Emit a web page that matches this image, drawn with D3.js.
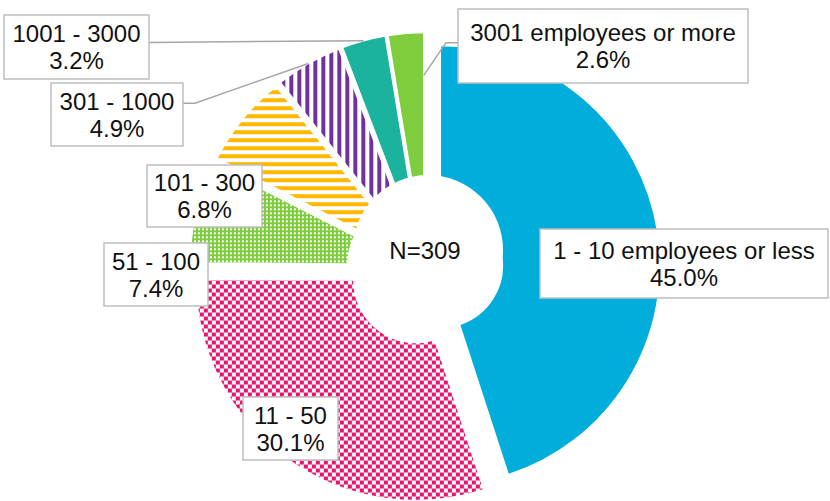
<!DOCTYPE html>
<html><head><meta charset="utf-8">
<script src="https://cdn.jsdelivr.net/npm/d3@7/dist/d3.min.js"></script>
<style>html,body{margin:0;padding:0;background:#fff;} svg{display:block;}</style>
</head><body>
<svg id="chart" width="830" height="501"></svg>
<script>
// ---- data ----
const categories = ["1 - 10 employees or less","11 - 50","51 - 100","101 - 300","301 - 1000","1001 - 3000","3001 employees or more"];
const values = [45.0, 30.1, 7.4, 6.8, 4.9, 3.2, 2.6];
const pctLabels = ["45.0%","30.1%","7.4%","6.8%","4.9%","3.2%","2.6%"];
const totalLabel = "N=309";

// ---- style / layout ----
const fills = ["#00ADDB","url(#pCheck)","url(#pGrid)","url(#pHStripe)","url(#pVStripe)","#1BB39D","#7DCD3C"];
const W = 830, H = 501;
const cx = 425, cy = 268, R = 220, r0 = 62, explode = 15.5;
const holeCx = 428, holeCy = 250, holeR = 75;
const font = "'Liberation Sans', Arial, sans-serif";
// label boxes: [x, y, w, h]
const boxes = [
  [540, 229, 288, 69],
  [243, 397, 95, 63],
  [104, 243, 104, 63],
  [147, 165, 115, 62],
  [51, 83, 132, 63],
  [4, 15, 145, 64],
  [458, 9, 290, 74]
];

const svg = d3.select("#chart");
const defs = svg.append("defs");

function pat(id, w, h, bg, draw) {
  const p = defs.append("pattern").attr("id", id).attr("patternUnits", "userSpaceOnUse")
    .attr("width", w).attr("height", h);
  p.append("rect").attr("width", w).attr("height", h).attr("fill", bg);
  draw(p);
}
pat("pCheck", 8, 8, "#fff", p => {
  p.append("rect").attr("x", 0).attr("y", 0).attr("width", 4).attr("height", 4).attr("fill", "#E8136F");
  p.append("rect").attr("x", 4).attr("y", 4).attr("width", 4).attr("height", 4).attr("fill", "#E8136F");
});
pat("pGrid", 4, 4, "#7DCD3C", p => {
  p.append("rect").attr("x", 0).attr("y", 0).attr("width", 2).attr("height", 2).attr("fill", "#fff");
});
pat("pHStripe", 8, 8, "#fff", p => {
  p.append("rect").attr("x", 0).attr("y", 0).attr("width", 8).attr("height", 4).attr("fill", "#FFB800");
});
pat("pVStripe", 8, 8, "#fff", p => {
  p.append("rect").attr("x", 0).attr("y", 0).attr("width", 4).attr("height", 8).attr("fill", "#7030A0");
});

const pie = d3.pie().sort(null).value(d => d).startAngle(0).endAngle(2 * Math.PI);
const arcs = pie(values);
const arc = d3.arc().innerRadius(r0).outerRadius(R);

function off(a) { return [Math.sin(a) * explode, -Math.cos(a) * explode]; }
function sliceCenter(d) {
  const m = (d.startAngle + d.endAngle) / 2;
  const o = off(m);
  return [cx + o[0], cy + o[1]];
}
function pt(d, ang, rad) {
  const c = sliceCenter(d);
  return [c[0] + Math.sin(ang) * rad, c[1] - Math.cos(ang) * rad];
}

const g = svg.append("g");
g.selectAll("path.slice").data(arcs).join("path")
  .attr("class", "slice")
  .attr("transform", d => { const c = sliceCenter(d); return `translate(${c[0]},${c[1]})`; })
  .attr("d", arc)
  .attr("fill", (d, i) => fills[i])
  .attr("stroke", "#fff").attr("stroke-width", 1.5);

// centre white disc + total
svg.append("circle").attr("cx", holeCx).attr("cy", holeCy).attr("r", holeR).attr("fill", "#fff");
svg.append("text").attr("x", holeCx - 3).attr("y", holeCy + 9).attr("text-anchor", "middle")
  .attr("font-family", font).attr("font-size", 24).attr("fill", "#111").text(totalLabel);

// leader lines
const lineG = svg.append("g").attr("fill", "none").attr("stroke", "#A6A6A6").attr("stroke-width", 1.5);
const line = d3.line();
// 1001 - 3000
{
  const d = arcs[5], b = boxes[5];
  const m = (d.startAngle + d.endAngle) / 2;
  lineG.append("path").attr("d", line([[b[0] + b[2], b[1] + b[3] * 0.43], pt(d, m, R)]));
}
// 301 - 1000
{
  const d = arcs[4], b = boxes[4];
  const m = (d.startAngle + d.endAngle) / 2;
  const y0 = b[1] + b[3] * 0.32;
  lineG.append("path").attr("d", line([[b[0] + b[2], y0], [b[0] + b[2] + 12, y0], pt(d, m, R)]));
}
// 3001+
{
  const d = arcs[6], b = boxes[6];
  const y0 = b[1] + b[3] * 0.455;
  lineG.append("path").attr("d", line([[b[0], y0], [b[0] - 12, y0], pt(d, d.endAngle, R * 0.805)]));
}

// label boxes
const lab = svg.append("g").selectAll("g").data(arcs).join("g");
lab.append("rect")
  .attr("x", (d, i) => boxes[i][0]).attr("y", (d, i) => boxes[i][1])
  .attr("width", (d, i) => boxes[i][2]).attr("height", (d, i) => boxes[i][3])
  .attr("fill", "#fff").attr("stroke", "#BFBFBF").attr("stroke-width", 1.5);
const t = lab.append("text").attr("text-anchor", "middle").attr("font-family", font)
  .attr("font-size", 24).attr("fill", "#111");
t.append("tspan")
  .attr("x", (d, i) => boxes[i][0] + boxes[i][2] / 2)
  .attr("y", (d, i) => boxes[i][1] + boxes[i][3] / 2 - 5)
  .text((d, i) => categories[i]);
t.append("tspan")
  .attr("x", (d, i) => boxes[i][0] + boxes[i][2] / 2)
  .attr("y", (d, i) => boxes[i][1] + boxes[i][3] / 2 + 22)
  .text((d, i) => pctLabels[i]);
</script>
</body></html>
